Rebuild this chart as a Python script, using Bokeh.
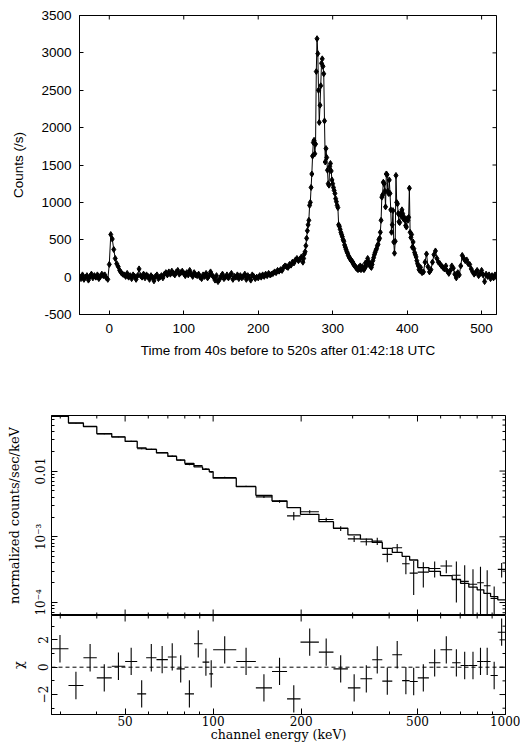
import numpy as np
from bokeh.plotting import figure
from bokeh.models import FixedTicker, CustomJSTickFormatter, Span, Range1d
from bokeh.layouts import column
from bokeh.embed import file_html
from bokeh.resources import INLINE

# ---------------- Light curve data ----------------
lc_t_a = list(range(-40, 260, 2))
lc_c_a = [10, -20, 30, -30, 0, 20, -40, 10, 40, -10, 20, 0, 30, -20, 10, 40, 20, 30, -10, -30,
          170, 570, 510, 370, 250, 180, 140, 90, 60, 40,
          30, 10, 50, 0, 20, -20, 30, 10, -30, 20,
          110, 20, 0, 40, -10, 30, 10, -30, 20, 0,
          -50, 10, 30, -20, 0, 20, -10, 40, 60, 30,
          70, 40, 80, 50, 30, 70, 90, 40, 60, 80,
          50, 20, 60, 30, 90, 40, 10, 60, 30, 20,
          40, 0, -20, 30, 10, 50, -10, 20, 70, 30,
          0, -40, 20, -60, -30, 10, 40, -20, 0, 30,
          -10, 20, 50, -30, 10, 0, 30, -20, 20, -10,
          10, 40, -30, 20, 0, -40, 30, 10, -20, 0,
          -10, 20, 0, 30, 10, 40, 20, 50, 30, 40,
          50, 70, 60, 90, 80, 100, 90, 130, 150, 140,
          130, 170, 160, 200, 190, 230, 250, 220, 240, 270]
lc_t_b = list(range(260, 421))
lc_c_b = [200, 250, 310, 340, 420, 520, 620, 700, 760, 960,
          1000, 1200, 1380, 1620, 1800, 1830, 1650, 1780, 2750, 3190,
          2990, 2500, 2070, 2300, 2560, 2860, 2920, 2820, 2720, 2090,
          1540, 1720, 1600, 1430, 1250, 1230, 1480, 1520, 1420, 1300,
          1250, 1200, 1160, 1120, 1050, 1010, 960, 930, 700, 680,
          640, 600, 570, 540, 500, 480, 430, 400, 370, 340,
          320, 290, 270, 250, 240, 220, 210, 200, 170, 160,
          150, 130, 120, 110, 100, 130, 110, 150, 100, 120,
          140, 110, 100, 120, 190, 150, 200, 250, 210, 170,
          180, 140, 130, 170, 220, 260, 300, 330, 360, 380,
          420, 440, 500, 520, 600, 760, 1070, 1100, 1270, 1250,
          1150, 940, 1380, 1370, 1150, 1120, 1300, 1120, 900, 600,
          700, 890, 470, 320, 480, 1360, 1000, 980, 850, 740,
          730, 850, 820, 900, 850, 780, 800, 760, 690, 670,
          780, 760, 800, 1190, 600, 530, 570, 400, 470, 380,
          330, 300, 270, 220, 180, 150, 100, 90, 130, 80,
          60]
lc_t_c = list(range(422, 521, 2))
lc_c_c = [70, 200, 310, 140, 70, 100, 200, 300, 350, 250,
          200, 180, 150, 130, 110, 150, 80, 50, 90, 150,
          120, 40, -10, 60, 30, 150, 290, 250, 220, 230,
          180, 170, 110, 70, 40, 60, 90, 20, 50, 90,
          30, -60, 40, 10, 30, -20, 20, -10, 30, 0]
lc_t = lc_t_a + lc_t_b + lc_t_c
lc_c = lc_c_a + lc_c_b + lc_c_c

# ---------------- Spectrum data ----------------
e_edges = [28, 32, 36, 40, 45, 50, 55, 59, 64, 70, 75, 80, 86, 92, 97, 100, 120, 140,
           159, 179, 199, 230, 258, 289, 319, 350, 379, 410, 443, 470, 501, 547, 599,
           657, 702, 749, 800, 843, 889, 941, 1000]
model = [0.068, 0.054, 0.0475, 0.0372, 0.033, 0.0282, 0.0225, 0.0213, 0.0189, 0.0167,
         0.0147, 0.0131, 0.0116, 0.0106, 0.0098, 0.0078, 0.00578, 0.00428, 0.00351, 0.00278,
         0.0022, 0.0017, 0.00135, 0.00107, 0.00092, 0.00082, 0.000665, 0.000579, 0.000504, 0.000444,
         0.00034, 0.000298, 0.000257, 0.000224, 0.000196, 0.000171, 0.000156, 0.000138, 0.000123, 0.00011]
data = [0.0687, 0.0533, 0.0479, 0.0368, 0.0330, 0.0284, 0.0218, 0.0215, 0.0191, 0.0169,
        0.0147, 0.0126, 0.0121, 0.0107, 0.0097, 0.0080, 0.00584, 0.00405, 0.00346, 0.00208,
        0.0024, 0.00183, 0.00134, 0.00093, 0.00084, 0.00086, 0.00054, 0.00068, 0.00039, 0.00028,
        0.00029, 0.00033, 0.00036, 0.00026, 0.00021, 0.00019, 0.00020, 0.00018, 0.000115, 0.00032]
err = [0.0005, 0.0005, 0.0006, 0.0005, 0.0004, 0.0004, 0.0004, 0.0004, 0.0003, 0.0003,
       0.0003, 0.0003, 0.0003, 0.0003, 0.0003, 0.00016, 0.00014, 0.00015, 0.00016, 0.0003,
       0.00013, 0.00012, 0.00011, 0.0001, 0.0001, 0.00011, 0.00013, 0.0001, 0.00012, 0.00015,
       0.00012, 0.00009, 0.00008, 0.00016, 0.00016, 0.00013, 0.00015, 0.00013, 0.00006, 0.00008]
chi = [1.35, -1.34, 0.69, -0.78, 0.07, 0.42, -1.95, 0.69, 0.55, 0.75,
       -0.12, -1.95, 1.71, 0.37, -0.49, 1.27, 0.42, -1.51, -0.31, -2.32,
       1.83, 1.1, -0.12, -1.51, -0.85, 0.54, -1.02, 0.91, -0.98, -1.05,
       -0.78, 0.32, 1.27, 0.32, 0.12, 0.12, 0.42, 0.42, -0.61, 2.56]

SANS = "Liberation Sans"
SERIF = "DejaVu Serif"


def style_axis(ax, font, size, tin, minor_in=0):
    ax.major_tick_in = tin
    ax.major_tick_out = 0
    ax.minor_tick_in = minor_in
    ax.minor_tick_out = 0
    ax.axis_line_color = "black"
    ax.major_tick_line_color = "black"
    ax.minor_tick_line_color = "black"
    ax.major_label_text_font = font
    ax.major_label_text_font_size = size
    ax.major_label_text_color = "black"
    ax.axis_label_text_font = font
    ax.axis_label_text_font_style = "normal"
    ax.axis_label_text_color = "black"


def edge_ticks(p, positions, edge_value, side, length):
    """Mirror tick marks drawn as dash markers centred on a frame edge (clipped to frame)."""
    n = len(positions)
    if side in ("top", "bottom"):
        xs, ys, ang = list(positions), [edge_value] * n, np.pi / 2
    else:
        xs, ys, ang = [edge_value] * n, list(positions), 0.0
    p.scatter(xs, ys, marker="dash", angle=ang, size=2 * length,
              line_color="black", line_width=1)


# ---------------- Top: light curve ----------------
X1 = (-40, 520)
Y1 = (-500, 3500)
x1_ticks = [0, 100, 200, 300, 400, 500]
y1_ticks = list(range(-500, 3501, 500))

p1 = figure(width=520, height=380, x_range=Range1d(*X1), y_range=Range1d(*Y1),
            output_backend="svg", toolbar_location=None, frame_align=False,
            min_border_left=79, min_border_right=24, min_border_top=15, min_border_bottom=66)
p1.grid.visible = False
p1.outline_line_color = "black"
p1.xaxis.ticker = FixedTicker(ticks=x1_ticks)
p1.yaxis.ticker = FixedTicker(ticks=y1_ticks)
p1.yaxis.formatter = CustomJSTickFormatter(code="return String(tick);")
for ax in p1.xaxis + p1.yaxis:
    style_axis(ax, SANS, "13.5px", 4)
p1.xaxis.axis_label = "Time from 40s before to 520s after 01:42:18 UTC"
p1.yaxis.axis_label = "Counts (/s)"
p1.xaxis.axis_label_text_font_size = "13.5px"
p1.yaxis.axis_label_text_font_size = "13.5px"
p1.xaxis.major_label_standoff = 9
p1.xaxis.axis_label_standoff = 7
p1.yaxis.major_label_standoff = 8
p1.yaxis.axis_label_standoff = 12
edge_ticks(p1, x1_ticks, Y1[1], "top", 4)
edge_ticks(p1, y1_ticks, X1[1], "right", 4)
p1.line(lc_t, lc_c, line_color="black", line_width=1)
p1.scatter(lc_t, lc_c, marker="diamond", size=6, fill_color="black", line_color="black")

# ---------------- Middle: spectrum ----------------
X2 = (28, 1000)
Y2 = (6.35e-5, 0.07)
Y3 = (-3.46, 3.78)
x_major = [50, 100, 200, 500, 1000]
x_minor = [30, 40, 60, 70, 80, 90, 300, 400, 600, 700, 800, 900]
y_major = [1e-4, 1e-3, 1e-2]
y_minor = [k * 10.0 ** e for e in (-5, -4, -3, -2) for k in range(2, 10)
           if Y2[0] < k * 10.0 ** e < Y2[1]]

p2 = figure(width=520, height=235, x_axis_type="log", y_axis_type="log",
            x_range=Range1d(*X2), y_range=Range1d(*Y2),
            x_axis_location=None, frame_align=False,
            output_backend="svg", toolbar_location=None,
            min_border_left=51, min_border_right=15, min_border_top=35, min_border_bottom=0)
p2.grid.visible = False
p2.outline_line_color = "black"
p2.yaxis.ticker = FixedTicker(ticks=y_major, minor_ticks=y_minor)
style_axis(p2.yaxis[0], SERIF, "12px", 6, 3)
p2.yaxis.major_label_orientation = "vertical"
p2.yaxis.formatter = CustomJSTickFormatter(code="""
const e = Math.round(Math.log10(tick));
if (e == -2) { return "0.01"; }
const sup = {"-": "\u207b", "0": "\u2070", "1": "\u00b9", "2": "\u00b2", "3": "\u00b3",
             "4": "\u2074", "5": "\u2075", "6": "\u2076", "7": "\u2077", "8": "\u2078", "9": "\u2079"};
return "10" + String(e).split("").map(c => sup[c]).join("");
""")
p2.yaxis.axis_label = "normalized counts/sec/keV"
p2.yaxis.axis_label_text_font_size = "13px"
p2.yaxis.major_label_standoff = 3
p2.yaxis.axis_label_standoff = 10
for side, val in (("top", Y2[1]), ("bottom", Y2[0])):
    edge_ticks(p2, x_major, val, side, 6)
    edge_ticks(p2, x_minor, val, side, 3)
edge_ticks(p2, y_major, X2[1], "right", 6)
edge_ticks(p2, y_minor, X2[1], "right", 3)

lo = np.array(e_edges[:-1], dtype=float)
hi = np.array(e_edges[1:], dtype=float)
mid = np.sqrt(lo * hi)
d = np.array(data)
de = np.array(err)
step_x = np.ravel(np.column_stack([lo, hi]))
step_y = np.ravel(np.column_stack([model, model]))
p2.line(step_x, step_y, line_color="black", line_width=1.3)
p2.segment(x0=lo, x1=hi, y0=d, y1=d, line_color="black", line_width=1.1)
p2.segment(x0=mid, x1=mid, y0=np.maximum(d - de, Y2[0] * 0.9), y1=d + de,
           line_color="black", line_width=1.1)

# ---------------- Bottom: residuals ----------------
p3 = figure(width=520, height=134, x_axis_type="log",
            x_range=Range1d(*X2), y_range=Range1d(*Y3), frame_align=False,
            output_backend="svg", toolbar_location=None,
            min_border_left=51, min_border_right=15, min_border_top=0, min_border_bottom=35)
p3.grid.visible = False
p3.outline_line_color = "black"
y3_major = [-2, 0, 2]
y3_minor = [-3, -1, 1, 3]
p3.xaxis.ticker = FixedTicker(ticks=x_major, minor_ticks=x_minor)
p3.yaxis.ticker = FixedTicker(ticks=y3_major, minor_ticks=y3_minor)
style_axis(p3.xaxis[0], SERIF, "12px", 6, 3)
style_axis(p3.yaxis[0], SERIF, "12px", 6, 3)
p3.xaxis.formatter = CustomJSTickFormatter(code="return String(tick);")
p3.yaxis.formatter = CustomJSTickFormatter(code="return tick < 0 ? '\u2212' + Math.abs(tick) : String(tick);")
p3.yaxis.major_label_orientation = "vertical"
p3.xaxis.axis_label = "channel energy (keV)"
p3.yaxis.axis_label = "\u03c7"
p3.xaxis.axis_label_text_font_size = "12.5px"
p3.yaxis.axis_label_text_font_size = "13px"
p3.xaxis.major_label_standoff = 1
p3.xaxis.axis_label_standoff = -2
p3.yaxis.major_label_standoff = 3
p3.yaxis.axis_label_standoff = 10
edge_ticks(p3, x_major, Y3[1], "top", 6)
edge_ticks(p3, x_minor, Y3[1], "top", 3)
edge_ticks(p3, y3_major, X2[1], "right", 6)
edge_ticks(p3, y3_minor, X2[1], "right", 3)

c = np.array(chi)
p3.add_layout(Span(location=0, dimension="width", line_color="black", line_dash="4 3", line_width=1))
p3.segment(x0=lo, x1=hi, y0=c, y1=c, line_color="black", line_width=1.1)
p3.segment(x0=mid, x1=mid, y0=c - 1, y1=c + 1, line_color="black", line_width=1.1)

layout = column(p1, p2, p3, spacing=0)
open("out.html", "w").write(file_html(layout, INLINE))
